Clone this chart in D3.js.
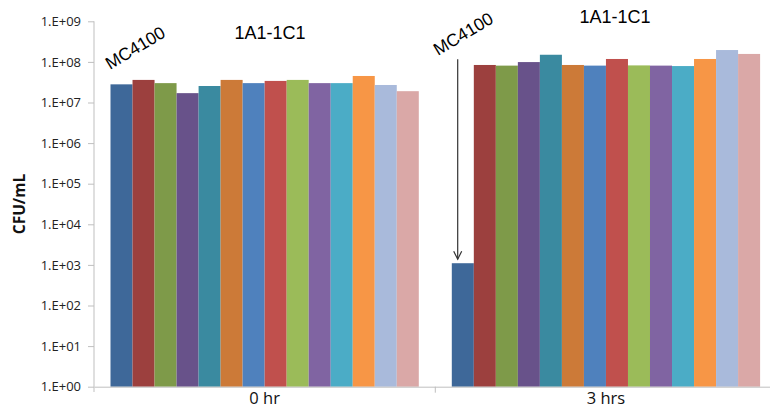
<!DOCTYPE html>
<html>
<head>
<meta charset="utf-8">
<script src="https://cdn.jsdelivr.net/npm/d3@7"></script>
<style>
  body { margin: 0; background: #fff; }
  svg { display: block; }
</style>
</head>
<body>
<svg id="chart"></svg>
<script>
// time points and strains
var groups = ["0 hr", "3 hrs"];
var strains = ["MC4100", "s2", "s3", "s4", "s5", "s6", "s7", "s8", "s9", "s10", "s11", "s12", "s13", "s14"];
// CFU/mL
var cfu0hr = [2.8e7, 3.6e7, 3.0e7, 1.7e7, 2.55e7, 3.6e7, 3.0e7, 3.4e7, 3.6e7, 3.0e7, 3.0e7, 4.5e7, 2.7e7, 1.9e7];
var cfu3hr = [1.1e3, 8.4e7, 8.1e7, 9.9e7, 1.5e8, 8.4e7, 8.1e7, 1.18e8, 8.2e7, 8.1e7, 7.9e7, 1.18e8, 1.96e8, 1.57e8];
var yTicks = [1, 1e1, 1e2, 1e3, 1e4, 1e5, 1e6, 1e7, 1e8, 1e9];
var colors = ["#3e6899", "#9c403e", "#7e9a49", "#68528a", "#3a8aa0", "#cc7a38", "#4f81bd",
              "#c0504d", "#9bbb59", "#8064a2", "#4bacc6", "#f79646", "#a9badb", "#daa8a7"];

var width = 770, height = 417;
var svg = d3.select("#chart").attr("width", width).attr("height", height);

var x0 = d3.scaleBand().domain(groups).range([94, 776.6]);
var x1 = d3.scaleBand().domain(strains).range([16.5, x0.bandwidth() - 16.5]);
var y = d3.scaleLog().domain([1, 1e9]).range([386.7, 21.3]);
var color = d3.scaleOrdinal().domain(strains).range(colors);

var data = [cfu0hr, cfu3hr];
var tickFont = "'Open Sans', Lato, sans-serif";

// y axis
var yAxis = d3.axisLeft(y)
    .tickValues(yTicks)
    .tickSize(6)
    .tickPadding(7)
    .tickFormat(function (d) {
        var e = Math.round(Math.log10(d));
        return "1.E+" + (e < 10 ? "0" : "") + e;
    });
var gy = svg.append("g").attr("transform", "translate(94,0)").call(yAxis);
gy.select(".domain").attr("stroke", "#bfbfbf").attr("d", "M0,21.3V392");
gy.selectAll(".tick line").attr("stroke", "#bfbfbf");
gy.selectAll("text")
    .attr("fill", "#222")
    .style("font-family", tickFont)
    .style("font-size", "13px");

// bars
var g = svg.append("g").selectAll("g")
    .data(groups)
    .enter().append("g")
    .attr("transform", function (d) { return "translate(" + x0(d) + ",0)"; });

g.selectAll("rect")
    .data(function (d, i) {
        return strains.map(function (s, j) { return {strain: s, value: data[i][j]}; });
    })
    .enter().append("rect")
    .attr("x", function (d) { return x1(d.strain); })
    .attr("width", x1.bandwidth())
    .attr("y", function (d) { return y(d.value); })
    .attr("height", function (d) { return y(1) - y(d.value); })
    .attr("fill", function (d) { return color(d.strain); });

// x axis
var xAxis = d3.axisBottom(x0).tickSize(0).tickPadding(6);
var gx = svg.append("g").attr("transform", "translate(0," + y(1) + ")").call(xAxis);
gx.select(".domain").attr("stroke", "#bfbfbf");
gx.selectAll("text")
    .attr("fill", "#111")
    .style("font-family", tickFont)
    .style("font-size", "16.5px");
// group separator tick
svg.append("line")
    .attr("x1", x0("3 hrs")).attr("x2", x0("3 hrs"))
    .attr("y1", y(1)).attr("y2", y(1) + 6)
    .attr("stroke", "#bfbfbf");

// y label
svg.append("text")
    .attr("transform", "translate(25,204) rotate(-90)")
    .attr("text-anchor", "middle")
    .style("font-family", tickFont)
    .style("font-size", "15.5px")
    .style("font-weight", "bold")
    .attr("fill", "#111")
    .text("CFU/mL");

// annotations
var labelFont = "'Liberation Sans', Arial, sans-serif";
svg.append("text")
    .attr("x", 270)
    .attr("y", 39)
    .attr("text-anchor", "middle")
    .style("font-family", labelFont).style("font-size", "18px")
    .text("1A1-1C1");
svg.append("text")
    .attr("x", 615)
    .attr("y", 23)
    .attr("text-anchor", "middle")
    .style("font-family", labelFont).style("font-size", "18px")
    .text("1A1-1C1");
svg.append("text")
    .attr("transform", "translate(110,70) rotate(-31)")
    .style("font-family", labelFont).style("font-size", "17.5px")
    .text("MC4100");
svg.append("text")
    .attr("transform", "translate(438,56) rotate(-31)")
    .style("font-family", labelFont).style("font-size", "17.5px")
    .text("MC4100");

// arrow to the MC4100 bar at 3 hrs
var ax = 457.7, ay0 = 59.3, ay1 = y(cfu3hr[0]) - 4;
svg.append("line")
    .attr("x1", ax).attr("x2", ax).attr("y1", ay0).attr("y2", ay1)
    .attr("stroke", "#333").attr("stroke-width", 1.2);
svg.append("path")
    .attr("d", "M" + (ax - 4) + "," + (ay1 - 8) + "L" + ax + "," + ay1 + "L" + (ax + 4) + "," + (ay1 - 8))
    .attr("fill", "none").attr("stroke", "#333").attr("stroke-width", 1.2);
</script>
</body>
</html>
